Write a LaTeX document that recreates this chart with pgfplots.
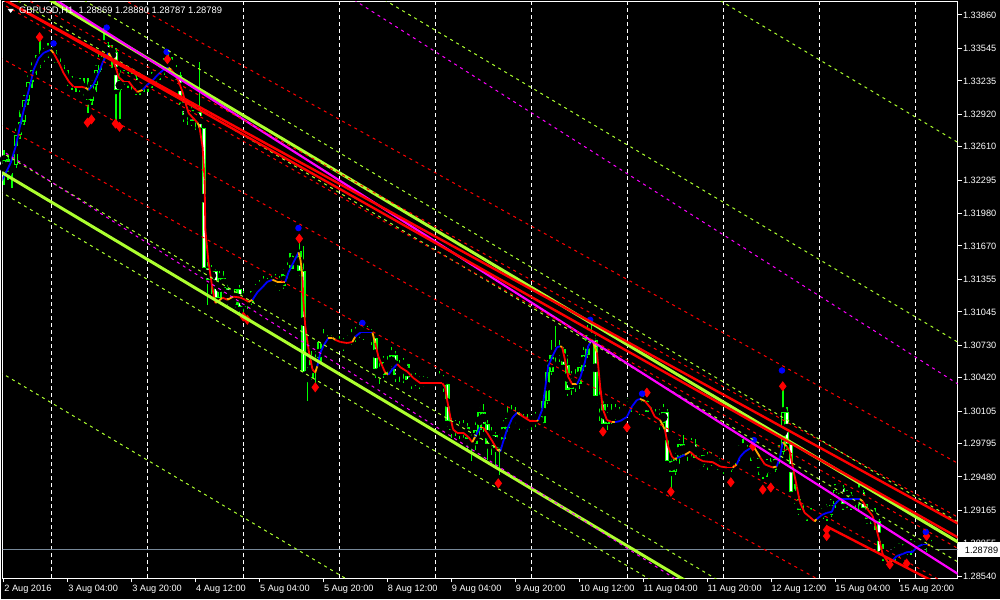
\documentclass[border=0pt]{standalone}
\usepackage{fontspec}
\setmainfont{Liberation Sans}
\usepackage{pgfplots}
\usepackage{pgfplotstable}
\pgfplotsset{compat=1.18}
\definecolor{candle}{RGB}{0,255,0}
\definecolor{gy}{RGB}{173,255,47}
\definecolor{mg}{RGB}{255,0,255}
\definecolor{rd}{RGB}{255,0,0}
\definecolor{bl}{RGB}{0,0,255}
\definecolor{og}{RGB}{255,165,0}
\definecolor{lsg}{RGB}{119,136,153}

\pgfplotstableread{
i o h l c
0 1.3234 1.3258 1.3225 1.3249
1 1.3249 1.3253 1.3230 1.3237
2 1.3237 1.3249 1.3222 1.3244
3 1.3244 1.3279 1.3241 1.3272
4 1.3272 1.3296 1.3268 1.3285
5 1.3285 1.3310 1.3282 1.3305
6 1.3305 1.3329 1.3301 1.3323
7 1.3323 1.3341 1.3317 1.3334
8 1.3334 1.3348 1.3329 1.3341
9 1.3341 1.3362 1.3336 1.3345
10 1.3345 1.3355 1.3341 1.3350
11 1.3350 1.3359 1.3345 1.3353
12 1.3353 1.3356 1.3345 1.3349
13 1.3349 1.3353 1.3338 1.3341
14 1.3341 1.3345 1.3330 1.3334
15 1.3334 1.3339 1.3323 1.3327
16 1.3327 1.3334 1.3319 1.3324
17 1.3324 1.3328 1.3315 1.3321
18 1.3321 1.3327 1.3313 1.3323
19 1.3323 1.3326 1.3313 1.3319
20 1.3319 1.3326 1.3309 1.3315
21 1.3315 1.3326 1.3293 1.3305
22 1.3305 1.3324 1.3301 1.3320
23 1.3320 1.3339 1.3313 1.3334
24 1.3334 1.3355 1.3332 1.3351
25 1.3351 1.3374 1.3341 1.3358
26 1.3358 1.3360 1.3341 1.3345
27 1.3345 1.3358 1.3336 1.3351
28 1.3351 1.3355 1.3284 1.3315
29 1.3315 1.3334 1.3287 1.3324
30 1.3324 1.3334 1.3320 1.3329
31 1.3329 1.3332 1.3317 1.3323
32 1.3323 1.3332 1.3315 1.3326
33 1.3326 1.3329 1.3310 1.3315
34 1.3315 1.3323 1.3310 1.3317
35 1.3317 1.3328 1.3313 1.3323
36 1.3323 1.3326 1.3313 1.3320
37 1.3320 1.3332 1.3317 1.3326
38 1.3326 1.3334 1.3320 1.3329
39 1.3329 1.3338 1.3324 1.3332
40 1.3332 1.3345 1.3329 1.3339
41 1.3339 1.3353 1.3334 1.3343
42 1.3343 1.3346 1.3332 1.3336
43 1.3336 1.3339 1.3324 1.3329
44 1.3329 1.3332 1.3301 1.3307
45 1.3307 1.3310 1.3285 1.3291
46 1.3291 1.3305 1.3282 1.3296
47 1.3296 1.3301 1.3281 1.3286
48 1.3286 1.3301 1.3277 1.3294
49 1.3294 1.3341 1.3275 1.3279
50 1.3279 1.3281 1.3140 1.3146
51 1.3146 1.3152 1.3111 1.3135
52 1.3135 1.3149 1.3121 1.3143
53 1.3143 1.3145 1.3114 1.3118
54 1.3118 1.3143 1.3116 1.3137
55 1.3137 1.3143 1.3121 1.3127
56 1.3127 1.3133 1.3109 1.3116
57 1.3116 1.3121 1.3105 1.3111
58 1.3111 1.3130 1.3108 1.3126
59 1.3126 1.3130 1.3102 1.3109
60 1.3109 1.3124 1.3101 1.3118
61 1.3118 1.3120 1.3107 1.3114
62 1.3114 1.3127 1.3111 1.3124
63 1.3124 1.3131 1.3118 1.3126
64 1.3126 1.3135 1.3124 1.3129
65 1.3129 1.3139 1.3126 1.3132
66 1.3132 1.3137 1.3127 1.3131
67 1.3131 1.3139 1.3128 1.3133
68 1.3133 1.3140 1.3129 1.3135
69 1.3135 1.3139 1.3124 1.3129
70 1.3129 1.3145 1.3126 1.3140
71 1.3140 1.3152 1.3133 1.3145
72 1.3145 1.3163 1.3143 1.3160
73 1.3160 1.3165 1.3154 1.3162
74 1.3162 1.3171 1.3139 1.3143
75 1.3143 1.3167 1.3044 1.3048
76 1.3048 1.3052 1.3020 1.3042
77 1.3042 1.3067 1.3040 1.3059
78 1.3059 1.3067 1.3033 1.3055
79 1.3055 1.3080 1.3054 1.3076
80 1.3076 1.3088 1.3073 1.3080
81 1.3080 1.3083 1.3069 1.3073
82 1.3073 1.3083 1.3071 1.3078
83 1.3078 1.3080 1.3067 1.3071
84 1.3071 1.3082 1.3069 1.3075
85 1.3075 1.3080 1.3067 1.3073
86 1.3073 1.3083 1.3071 1.3078
87 1.3078 1.3088 1.3073 1.3081
88 1.3081 1.3090 1.3076 1.3084
89 1.3084 1.3095 1.3080 1.3088
90 1.3088 1.3090 1.3078 1.3083
91 1.3083 1.3091 1.3080 1.3086
92 1.3086 1.3088 1.3073 1.3080
93 1.3080 1.3083 1.3042 1.3050
94 1.3050 1.3059 1.3036 1.3045
95 1.3045 1.3063 1.3042 1.3057
96 1.3057 1.3063 1.3045 1.3052
97 1.3052 1.3071 1.3048 1.3064
98 1.3064 1.3067 1.3038 1.3045
99 1.3045 1.3059 1.3038 1.3050
100 1.3050 1.3061 1.3037 1.3055
101 1.3055 1.3056 1.3036 1.3040
102 1.3040 1.3047 1.3031 1.3038
103 1.3038 1.3047 1.3034 1.3041
104 1.3041 1.3044 1.3031 1.3037
105 1.3037 1.3044 1.3033 1.3039
106 1.3039 1.3043 1.3033 1.3037
107 1.3037 1.3044 1.3034 1.3040
108 1.3040 1.3043 1.3035 1.3038
109 1.3038 1.3048 1.3036 1.3042
110 1.3042 1.3045 1.3029 1.3036
111 1.3036 1.3037 1.2995 1.3001
112 1.3001 1.3004 1.2985 1.2993
113 1.2993 1.3002 1.2987 1.2997
114 1.2997 1.3001 1.2984 1.2991
115 1.2991 1.3002 1.2985 1.2995
116 1.2995 1.2999 1.2972 1.2984
117 1.2984 1.2989 1.2963 1.2979
118 1.2979 1.3001 1.2974 1.2993
119 1.2993 1.3014 1.2984 1.3010
120 1.3010 1.3017 1.2991 1.2998
121 1.2998 1.3002 1.2964 1.2979
122 1.2979 1.2995 1.2969 1.2988
123 1.2988 1.2991 1.2957 1.2976
124 1.2976 1.2991 1.2950 1.2984
125 1.2984 1.3002 1.2979 1.2995
126 1.2995 1.3014 1.2991 1.3004
127 1.3004 1.3016 1.2999 1.3008
128 1.3008 1.3014 1.2998 1.3004
129 1.3004 1.3010 1.2993 1.2998
130 1.2998 1.3008 1.2995 1.3002
131 1.3002 1.3008 1.2993 1.2997
132 1.2997 1.3007 1.2993 1.3002
133 1.3002 1.3010 1.2995 1.3004
134 1.3004 1.3007 1.2995 1.2999
135 1.2999 1.3026 1.2998 1.3020
136 1.3020 1.3059 1.3017 1.3048
137 1.3048 1.3078 1.3045 1.3064
138 1.3064 1.3091 1.3055 1.3067
139 1.3067 1.3078 1.3057 1.3069
140 1.3069 1.3071 1.3050 1.3054
141 1.3054 1.3064 1.3025 1.3031
142 1.3031 1.3048 1.3026 1.3042
143 1.3042 1.3050 1.3029 1.3036
144 1.3036 1.3059 1.3031 1.3052
145 1.3052 1.3071 1.3048 1.3064
146 1.3064 1.3092 1.3061 1.3083
147 1.3083 1.3097 1.3073 1.3078
148 1.3078 1.3083 1.3020 1.3025
149 1.3025 1.3045 1.3001 1.3017
150 1.3017 1.3021 1.2993 1.2998
151 1.2998 1.3017 1.2993 1.3010
152 1.3010 1.3017 1.2998 1.3004
153 1.3004 1.3017 1.3002 1.3010
154 1.3010 1.3014 1.3001 1.3005
155 1.3005 1.3017 1.3004 1.3011
156 1.3011 1.3023 1.3008 1.3014
157 1.3014 1.3025 1.3010 1.3021
158 1.3021 1.3023 1.3012 1.3017
159 1.3017 1.3021 1.3007 1.3012
160 1.3012 1.3028 1.3010 1.3020
161 1.3020 1.3021 1.3004 1.3010
162 1.3010 1.3014 1.2998 1.3002
163 1.3002 1.3012 1.2999 1.3006
164 1.3006 1.3012 1.2993 1.2999
165 1.2999 1.3017 1.2995 1.3010
166 1.3010 1.3012 1.2957 1.2963
167 1.2963 1.2966 1.2936 1.2953
168 1.2953 1.2972 1.2950 1.2966
169 1.2966 1.2984 1.2960 1.2979
170 1.2979 1.2988 1.2965 1.2969
171 1.2969 1.2979 1.2963 1.2974
172 1.2974 1.2985 1.2966 1.2979
173 1.2979 1.2984 1.2963 1.2966
174 1.2966 1.2969 1.2955 1.2959
175 1.2959 1.2974 1.2957 1.2969
176 1.2969 1.2972 1.2955 1.2961
177 1.2961 1.2972 1.2958 1.2966
178 1.2966 1.2969 1.2959 1.2963
179 1.2963 1.2966 1.2953 1.2955
180 1.2955 1.2963 1.2951 1.2959
181 1.2959 1.2963 1.2952 1.2955
182 1.2955 1.2966 1.2953 1.2963
183 1.2963 1.2972 1.2960 1.2968
184 1.2968 1.2978 1.2963 1.2974
185 1.2974 1.2984 1.2969 1.2976
186 1.2976 1.2978 1.2966 1.2969
187 1.2969 1.2978 1.2963 1.2974
188 1.2974 1.2976 1.2963 1.2966
189 1.2966 1.2969 1.2950 1.2957
190 1.2957 1.2960 1.2946 1.2952
191 1.2952 1.2965 1.2948 1.2960
192 1.2960 1.2966 1.2951 1.2955
193 1.2955 1.2969 1.2953 1.2965
194 1.2965 1.2978 1.2960 1.2972
195 1.2972 1.3035 1.2969 1.3010
196 1.3010 1.3014 1.2974 1.2979
197 1.2979 1.2982 1.2930 1.2934
198 1.2934 1.2941 1.2922 1.2927
199 1.2927 1.2930 1.2912 1.2917
200 1.2917 1.2922 1.2906 1.2910
201 1.2910 1.2919 1.2906 1.2915
202 1.2915 1.2919 1.2906 1.2910
203 1.2910 1.2919 1.2905 1.2915
204 1.2915 1.2917 1.2906 1.2910
205 1.2910 1.2922 1.2908 1.2919
206 1.2919 1.2922 1.2906 1.2912
207 1.2912 1.2927 1.2910 1.2922
208 1.2922 1.2941 1.2919 1.2936
209 1.2936 1.2942 1.2927 1.2938
210 1.2938 1.2940 1.2917 1.2922
211 1.2922 1.2936 1.2919 1.2931
212 1.2931 1.2934 1.2917 1.2922
213 1.2922 1.2931 1.2919 1.2929
214 1.2929 1.2941 1.2917 1.2934
215 1.2934 1.2936 1.2915 1.2919
216 1.2919 1.2922 1.2903 1.2908
217 1.2908 1.2919 1.2903 1.2915
218 1.2915 1.2919 1.2898 1.2906
219 1.2906 1.2908 1.2874 1.2877
220 1.2877 1.2884 1.2868 1.2874
221 1.2874 1.2881 1.2868 1.2877
222 1.2877 1.2879 1.2867 1.2872
223 1.2872 1.2882 1.2868 1.2877
224 1.2877 1.2885 1.2872 1.2881
225 1.2881 1.2884 1.2873 1.2876
226 1.2876 1.2885 1.2874 1.2882
227 1.2882 1.2889 1.2874 1.2884
228 1.2884 1.2887 1.2877 1.2881
229 1.2881 1.2892 1.2879 1.2888
230 1.2888 1.2889 1.2879 1.2883
231 1.2883 1.2892 1.2877 1.2887
232 1.28869 1.28880 1.28787 1.28789
}\candles

\pgfplotstableread{
i v m
-0.8 1.3227 2
0 1.3233 2
1.7 1.3246 2
2.9 1.3261 2
4.2 1.3284 2
5.4 1.3303 2
6.7 1.3322 2
7.4 1.3334 2
8.7 1.3345 2
9.9 1.3350 2
11.7 1.3353 1
12.4 1.3350 0
13.7 1.3341 0
14.9 1.3331 0
16.2 1.3323 0
17.4 1.3318 0
19.2 1.3318 0
20.4 1.3317 1
21.2 1.3315 2
22.4 1.3320 2
23.7 1.3331 2
24.7 1.3341 2
25.4 1.3346 2
26.2 1.3350 1
27.2 1.3343 0
27.9 1.3337 0
28.7 1.3327 0
29.9 1.3323 0
31.2 1.3323 0
32.4 1.3317 0
33.4 1.3313 1
34.7 1.3315 2
35.9 1.3320 2
37.2 1.3324 2
38.4 1.3329 2
39.9 1.3334 2
41.2 1.3336 1
41.9 1.3334 0
42.9 1.3329 0
43.7 1.3323 0
44.7 1.3313 0
45.4 1.3303 0
46.2 1.3293 0
47.4 1.3288 0
48.4 1.3284 1
48.9 1.3280 0
49.7 1.3261 0
50.2 1.3230 0
50.4 1.3182 0
51.2 1.3151 0
52.2 1.3126 0
52.9 1.3113 1
53.4 1.3114 1
54.7 1.3118 0
55.9 1.3116 1
57.4 1.3119 0
59.2 1.3118 0
60.4 1.3116 0
61.2 1.3114 1
62.2 1.3116 2
63.4 1.3123 2
64.7 1.3128 2
65.9 1.3133 2
67.2 1.3135 1
68.4 1.3133 1
70.4 1.3133 2
71.2 1.3142 2
72.4 1.3151 2
73.7 1.3161 1
74.2 1.3154 1
74.7 1.3138 0
74.9 1.3116 0
75.4 1.3091 0
76.2 1.3069 0
77.2 1.3050 0
77.9 1.3047 1
78.4 1.3053 2
79.2 1.3066 2
79.9 1.3072 2
81.2 1.3080 1
82.2 1.3080 1
82.9 1.3078 0
84.2 1.3076 0
85.9 1.3075 0
87.2 1.3076 1
87.9 1.3081 2
89.2 1.3085 2
90.9 1.3085 2
92.2 1.3085 1
92.9 1.3075 0
93.7 1.3062 0
94.7 1.3053 0
95.4 1.3047 1
96.2 1.3045 2
97.2 1.3050 2
98.4 1.3055 0
99.2 1.3052 0
100.9 1.3048 0
102.4 1.3042 0
104.2 1.3037 0
106.7 1.3037 0
109.7 1.3037 0
110.4 1.3033 0
110.9 1.3021 0
111.7 1.3005 0
112.4 1.2993 0
113.4 1.2990 0
114.9 1.2990 0
116.2 1.2986 0
117.2 1.2981 1
117.9 1.2986 2
119.2 1.2995 1
119.9 1.2995 0
120.9 1.2990 0
122.2 1.2982 0
123.4 1.2974 1
124.2 1.2972 2
124.9 1.2981 2
125.9 1.2993 2
127.2 1.3004 2
128.4 1.3009 1
129.2 1.3007 0
130.4 1.3004 0
131.7 1.3001 0
133.4 1.3001 1
133.7 1.3002 2
134.7 1.3012 2
135.4 1.3031 2
136.2 1.3053 2
137.2 1.3062 2
138.4 1.3071 2
139.2 1.3072 1
139.7 1.3071 0
140.4 1.3059 0
141.2 1.3043 0
142.2 1.3036 1
143.4 1.3036 2
144.2 1.3042 2
145.4 1.3057 2
146.2 1.3072 2
147.2 1.3078 1
148.4 1.3066 0
149.2 1.3034 0
149.9 1.3012 0
150.9 1.3002 0
152.2 1.3000 1
152.9 1.3000 2
154.2 1.3001 2
155.9 1.3005 2
157.2 1.3015 2
158.4 1.3021 2
159.2 1.3022 1
160.4 1.3020 0
161.7 1.3014 0
162.9 1.3005 0
164.2 1.3002 1
165.4 1.2993 0
166.2 1.2977 0
167.2 1.2967 0
167.9 1.2965 1
168.4 1.2966 2
169.2 1.2967 2
170.4 1.2969 1
171.7 1.2972 0
173.4 1.2966 0
174.9 1.2963 0
177.4 1.2962 0
179.2 1.2958 0
180.9 1.2957 0
182.4 1.2957 1
183.4 1.2960 2
184.2 1.2967 2
185.4 1.2972 2
186.7 1.2975 2
187.9 1.2975 1
189.2 1.2967 0
190.4 1.2960 0
191.7 1.2958 0
192.4 1.2957 1
193.4 1.2958 2
194.2 1.2967 2
194.9 1.2981 1
195.9 1.2977 0
196.7 1.2972 0
197.4 1.2958 0
198.4 1.2939 0
199.2 1.2924 0
200.4 1.2914 0
201.7 1.2910 0
202.9 1.2906 1
203.4 1.2908 2
204.7 1.2912 2
205.9 1.2914 2
207.2 1.2915 2
207.9 1.2922 2
209.2 1.2927 2
210.9 1.2927 2
212.9 1.2927 2
214.2 1.2927 1
214.9 1.2925 0
216.2 1.2917 0
217.4 1.2911 0
218.4 1.2898 0
219.2 1.2886 0
219.9 1.2875 0
221.2 1.2867 1
222.4 1.2869 2
223.4 1.2873 2
224.9 1.2875 2
226.2 1.2877 2
227.4 1.2877 2
228.7 1.2882 2
229.9 1.2884 2
231.2 1.2884 1
231.7 1.2883 1
}\ma

\pgfplotstableread{
i p
8.9 1.3365
20.9 1.3284
21.9 1.3287
27.9 1.3283
28.9 1.3280
40.9 1.3344
59.9 1.3100
60.9 1.3097
73.9 1.3174
77.9 1.3033
123.7 1.2942
149.9 1.2991
155.9 1.2995
160.9 1.3028
166.9 1.2934
181.9 1.2943
187.4 1.2977
189.9 1.2936
191.9 1.2938
194.9 1.3034
205.9 1.2898
205.9 1.2892
221.7 1.2865
225.9 1.2866
230.9 1.2892
}\redmk

\pgfplotstableread{
i p
12.4 1.3359
25.7 1.3374
40.7 1.3351
73.7 1.3184
89.7 1.3094
146.7 1.3097
159.7 1.3027
187.7 1.2983
194.7 1.3049
230.7 1.2896
}\bluemk

\begin{document}
\begin{tikzpicture}
\fill[black] (0,0) rectangle (500pt,300pt);
\begin{axis}[
  at={(1pt,299pt)}, anchor=north west,
  width=478pt, height=288.5pt, scale only axis,
  xmin=-0.325, xmax=238.675, ymin=1.285189, ymax=1.339831,
  clip mode=individual,
  axis line style={white, line width=0.5pt},
  xtick={0,16,...,224},
  xticklabels={2 Aug 2016,3 Aug 04:00,3 Aug 20:00,4 Aug 12:00,5 Aug 04:00,5 Aug 20:00,8 Aug 12:00,9 Aug 04:00,9 Aug 20:00,10 Aug 12:00,11 Aug 04:00,11 Aug 20:00,12 Aug 12:00,15 Aug 04:00,15 Aug 20:00},
  ytick={1.33860,1.33545,1.33235,1.32920,1.32610,1.32295,1.31980,1.31670,1.31355,1.31045,1.30730,1.30420,1.30105,1.29795,1.29480,1.29165,1.28855,1.28540},
  yticklabels={1.33860,1.33545,1.33235,1.32920,1.32610,1.32295,1.31980,1.31670,1.31355,1.31045,1.30730,1.30420,1.30105,1.29795,1.29480,1.29165,1.28855,1.28540},
  xtick pos=left, ytick pos=right, yticklabel pos=right,
  tick align=outside, major tick length=2pt,
  tick style={white, line width=0.5pt},
  tick label style={font=\fontsize{4.6}{5}\selectfont, text=white},
  xticklabel style={anchor=north west, inner sep=0pt, yshift=-1pt},
  yticklabel style={anchor=west, inner sep=0pt, xshift=0.5pt},
  extra x ticks={12,36,60,84,108,132,156,180,204,228},
  extra x tick labels={},
  extra x tick style={grid=major, tick style={draw=none}},
  major grid style={white, line width=0.5pt, dash pattern=on 2pt off 1.5pt},
  colormap={mavg}{rgb255(0)=(255,0,0) rgb255(1)=(255,165,0) rgb255(2)=(0,0,255)},
  point meta min=0, point meta max=2,
]
% current price line
\addplot[lsg, line width=0.5pt] coordinates {(-1,1.28789) (240,1.28789)};
% wicks
\addplot[only marks, mark=none, error bars/.cd, y dir=both, y explicit, error mark=none,
  error bar style={candle, line width=0.7pt}]
  table[x=i, y=c, y error plus expr={\thisrow{h}-\thisrow{c}}, y error minus expr={\thisrow{c}-\thisrow{l}}] {\candles};
% bodies
\addplot[only marks, mark=none, error bars/.cd, y dir=both, y explicit, error mark=none,
  error bar style={candle, line width=2.2pt}]
  table[x=i, y expr={(\thisrow{o}+\thisrow{c})/2}, y error expr={max(abs(\thisrow{o}-\thisrow{c})/2,0.00006)}] {\candles};
% bear inner (white)
\addplot[only marks, mark=none, error bars/.cd, y dir=both, y explicit, error mark=none,
  error bar style={white, line width=0.8pt}]
  table[x=i, y expr={\thisrow{c}<\thisrow{o} ? (\thisrow{o}+\thisrow{c})/2 : nan}, y error expr={max(abs(\thisrow{o}-\thisrow{c})/2-0.0001,0)}] {\candles};
% bull inner (black)
\addplot[only marks, mark=none, error bars/.cd, y dir=both, y explicit, error mark=none,
  error bar style={black, line width=0.7pt}]
  table[x=i, y expr={\thisrow{c}>\thisrow{o} ? (\thisrow{o}+\thisrow{c})/2 : nan}, y error expr={max(abs(\thisrow{o}-\thisrow{c})/2-0.0001,0)}] {\candles};
% moving average
\addplot[mesh, shader=flat corner, line width=0.9pt, point meta=explicit] table[x=i, y=v, meta=m] {\ma};
% fractal marks
\addplot[only marks, mark=diamond*, mark size=2.2pt, color=rd] table[x=i, y=p] {\redmk};
\addplot[only marks, mark=*, mark size=1.4pt, color=bl] table[x=i, y=p] {\bluemk};
% yellow-green channel
\addplot[gy, line width=0.5pt, dash pattern=on 1.5pt off 2pt] coordinates {(-1,1.38073) (240,1.32623)};
\addplot[gy, line width=0.5pt, dash pattern=on 1.5pt off 2pt] coordinates {(-1,1.36179) (240,1.30729)};
\addplot[gy, line width=0.5pt, dash pattern=on 1.5pt off 2pt] coordinates {(-1,1.34475) (240,1.29025)};
\addplot[gy, line width=0.5pt, dash pattern=on 1.5pt off 2pt] coordinates {(-1,1.34096) (240,1.28646)};
\addplot[gy, line width=0.5pt, dash pattern=on 1.5pt off 2pt] coordinates {(-1,1.32566) (240,1.27116)};
\addplot[gy, line width=0.5pt, dash pattern=on 1.5pt off 2pt] coordinates {(-1,1.32188) (240,1.26738)};
\addplot[gy, line width=0.5pt, dash pattern=on 1.5pt off 2pt] coordinates {(-1,1.30474) (240,1.25024)};
\addplot[gy, line width=1.5pt] coordinates {(-1,1.34285) (240,1.28835)};
\addplot[gy, line width=1.5pt] coordinates {(-1,1.32377) (240,1.26927)};
% magenta channel
\addplot[mg, line width=0.5pt, dash pattern=on 1.5pt off 2pt] coordinates {(-1,1.36137) (240,1.30331)};
\addplot[mg, line width=0.5pt, dash pattern=on 1.5pt off 2pt] coordinates {(-1,1.32586) (240,1.26779)};
\addplot[mg, line width=1.1pt] coordinates {(-1,1.34338) (240,1.28531)};
% red channel
\addplot[rd, line width=0.5pt, dash pattern=on 1.5pt off 2pt] coordinates {(-1,1.34659) (240,1.29583)};
\addplot[rd, line width=0.5pt, dash pattern=on 1.5pt off 2pt] coordinates {(-1,1.34148) (240,1.29072)};
\addplot[rd, line width=0.5pt, dash pattern=on 1.5pt off 2pt] coordinates {(-1,1.33977) (240,1.28775)};
\addplot[rd, line width=0.5pt, dash pattern=on 1.5pt off 2pt] coordinates {(-1,1.33457) (240,1.28381)};
\addplot[rd, line width=0.5pt, dash pattern=on 1.5pt off 2pt] coordinates {(-1,1.32822) (240,1.27746)};
\addplot[rd, line width=1.2pt] coordinates {(-1,1.34026) (240,1.29013)};
\addplot[rd, line width=1.2pt] coordinates {(-1,1.34026) (240,1.28880)};
\addplot[rd, line width=1.2pt] coordinates {(205.9,1.29011) (244.2,1.28263)};
\coordinate (cp) at (axis cs:238.675,1.28789);
\end{axis}
\node[fill=white, text=black, anchor=west, inner sep=0pt, minimum width=21pt, minimum height=7.5pt, font=\fontsize{4.6}{5}\selectfont] at (cp) {\hspace*{2.5pt}1.28789\hfill};
\fill[white] (3.5pt,295.5pt) -- (6.5pt,295.5pt) -- (5pt,293.5pt) -- cycle;
\node[anchor=west, inner sep=0pt, text=white, font=\fontsize{4.7}{5}\selectfont] at (9pt,294.7pt) {GBPUSD,H1\ \ 1.28869 1.28880 1.28787 1.28789};
\end{tikzpicture}
\end{document}
